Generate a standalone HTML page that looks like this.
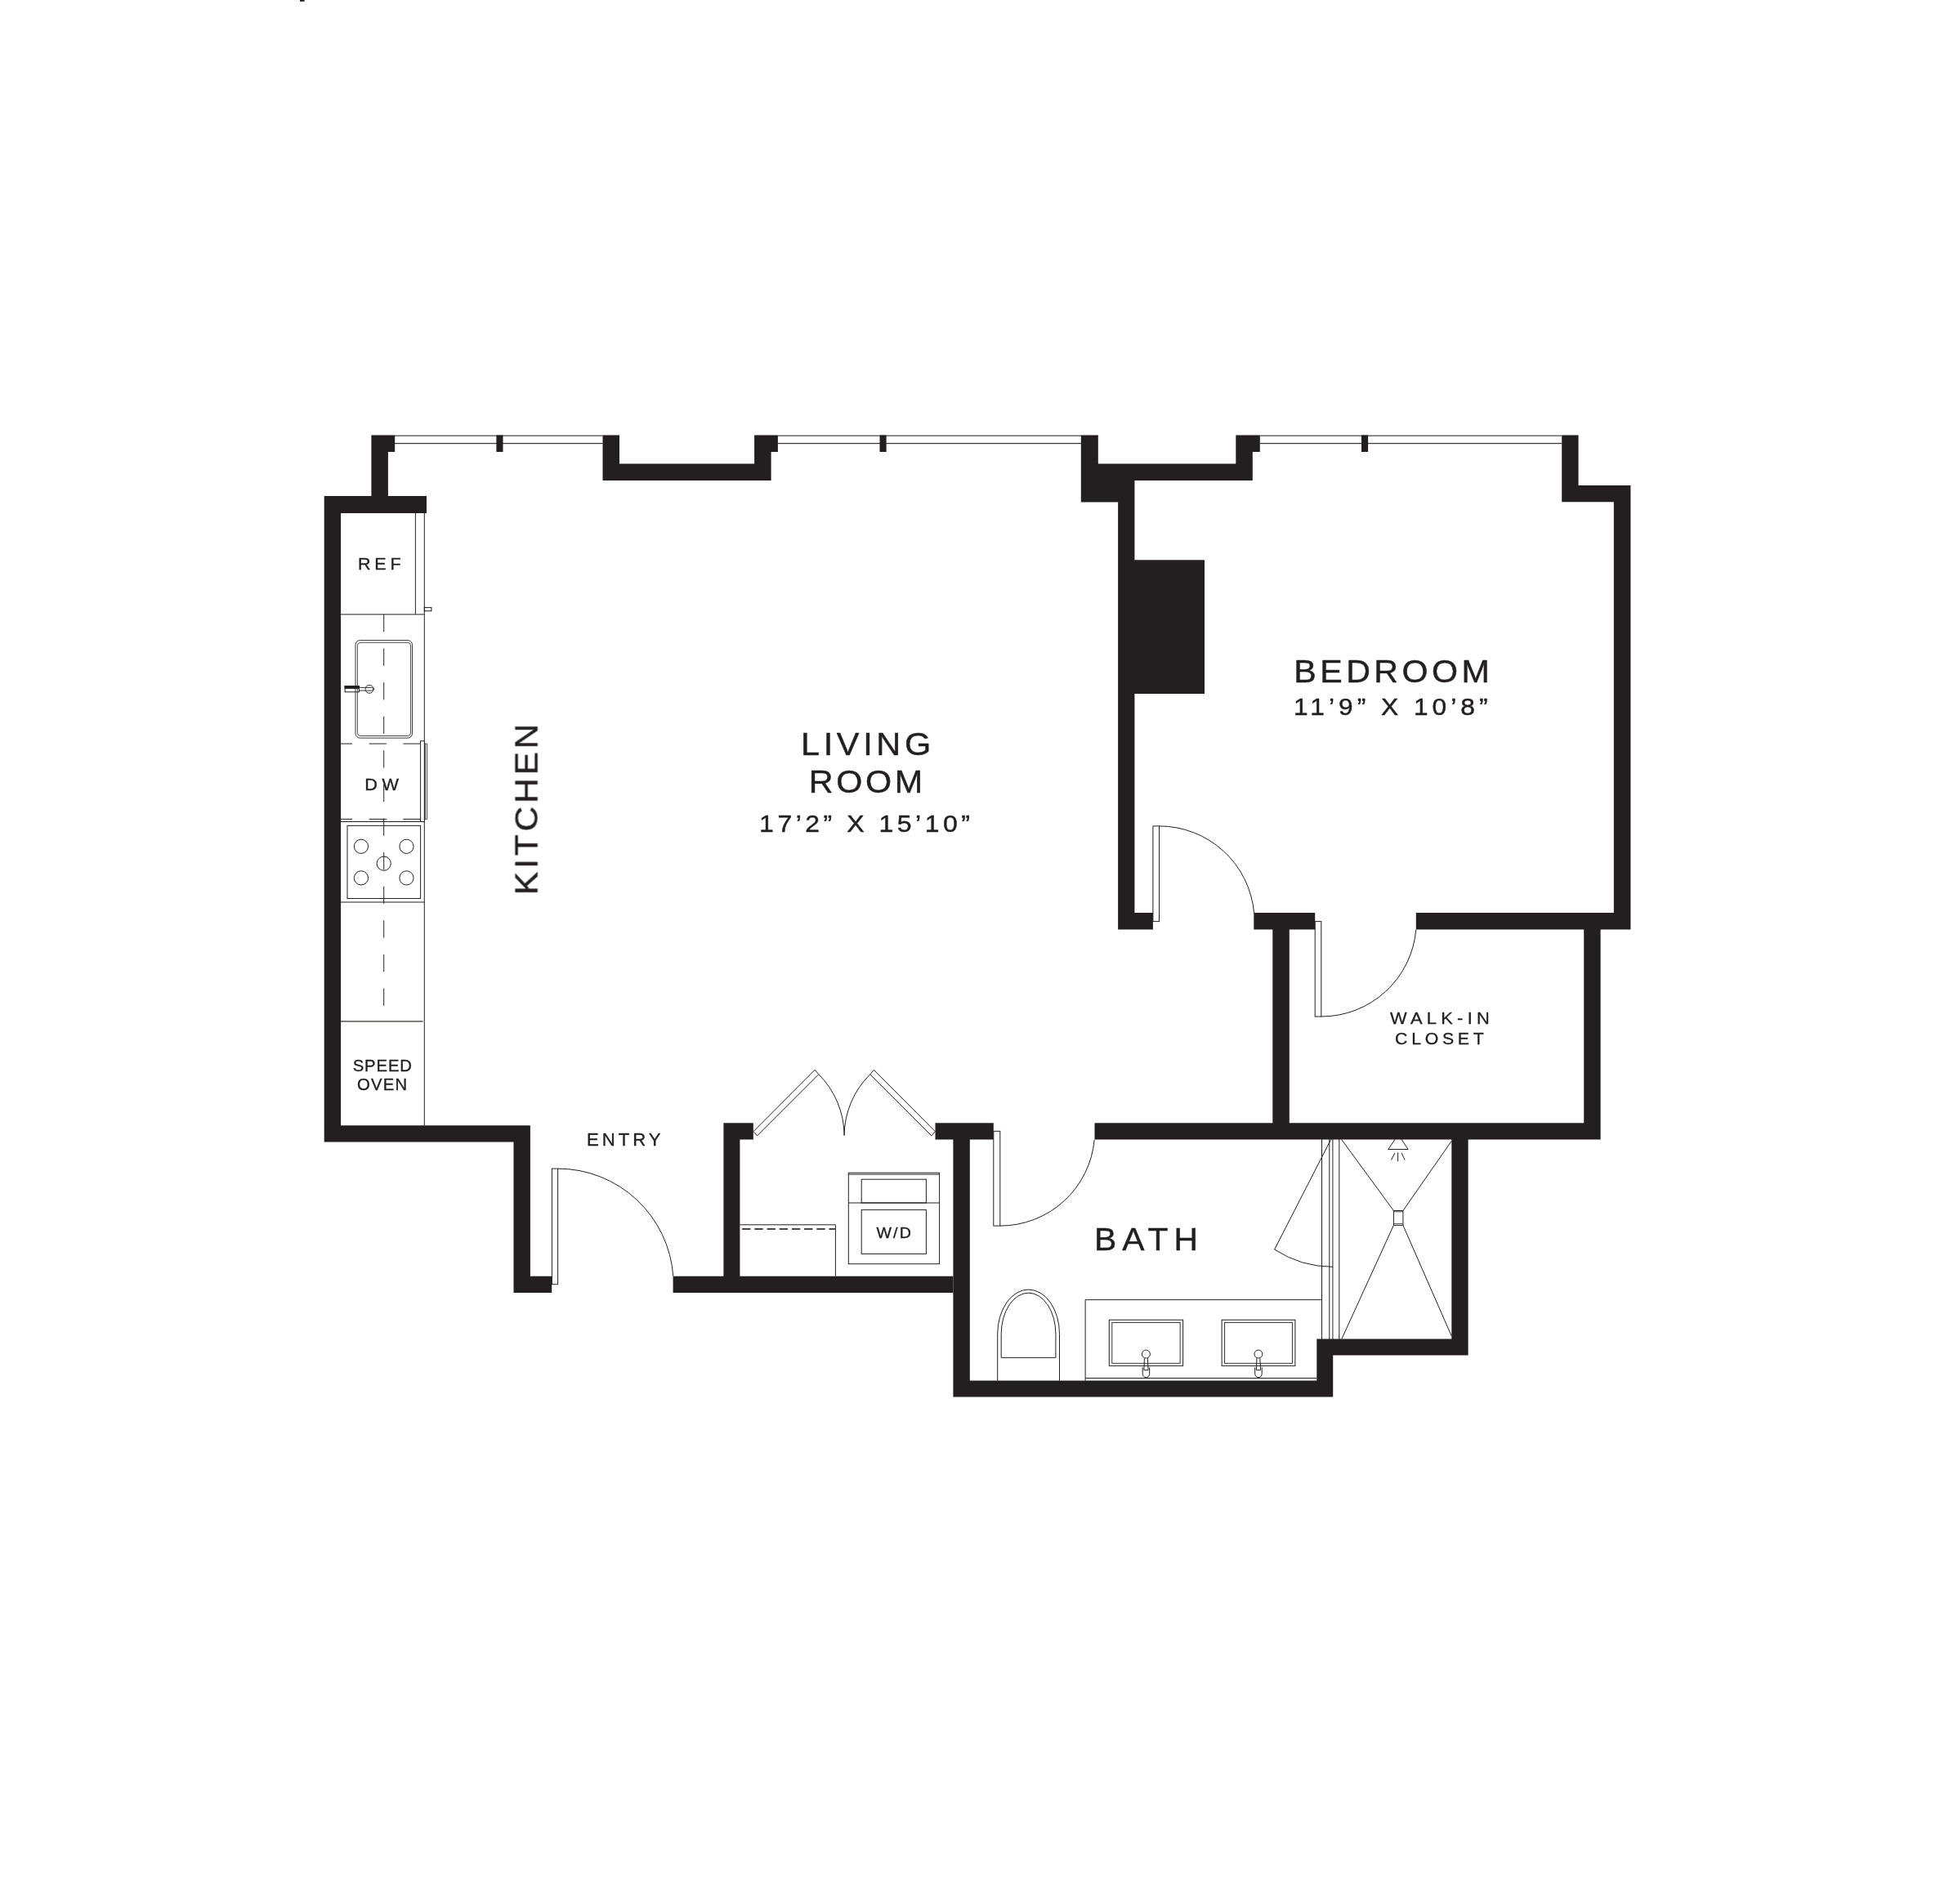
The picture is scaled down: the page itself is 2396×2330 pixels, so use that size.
<!DOCTYPE html>
<html lang="en">
<head>
<meta charset="utf-8">
<title>Floor plan</title>
<style>
html,body{margin:0;padding:0;background:#fff;}
body{width:2396px;height:2330px;overflow:hidden;}
svg{display:block;}
.w{fill:#231f20;stroke:none;}
.l{fill:none;stroke:#231f20;stroke-width:1;}
.lw{fill:#fff;stroke:#231f20;stroke-width:1;}
text{font-family:"Liberation Sans",sans-serif;fill:#231f20;}
</style>
</head>
<body>
<svg width="2396" height="2330" viewBox="0 0 2396 2330">
<rect x="0" y="0" width="2396" height="2330" fill="#ffffff"/>
<rect x="367" y="0" width="5.6" height="1.8" fill="#231f20"/>

<!-- WINDOWS -->
<g id="windows" fill="none">
<path d="M483 533.2H737.5M952 533.2H1323M1541.5 533.2H1911.2" stroke="#231f20" stroke-width="1"/>
<path d="M483 542.6H737.5M952 542.6H1323M1541.5 542.6H1911.2" stroke="#3f3b39" stroke-width="1.05"/>
</g>

<!-- KITCHEN -->
<g id="kitchen" class="l">
<path d="M508.4 627.9V751.9M519.3 627.9V1377.1M417 751.9H519.3"/>
<rect x="519.3" y="743.4" width="8.6" height="4.3"/>
<path d="M469.7 751.9V1230.8" stroke-dasharray="21.3 20.3"/>
<rect x="435" y="783.6" width="69.5" height="119.5" rx="5.5" stroke-width="0.9"/>
<rect x="437.4" y="786.3" width="65.1" height="114.2" rx="3.7" stroke-width="0.8"/>
<path d="M417 910.1H514.6M417 1002.4H514.6" stroke-dasharray="21.3 20.5" stroke-dashoffset="7.2"/>
<rect class="lw" x="514.6" y="906.8" width="4.7" height="98.7"/>
<path d="M519.3 910.1H522.7V1002.4H519.3M520.6 910.1V1002.4" stroke-width="0.8"/>
<path d="M417 1005.5H519.3M417 1104H519.3"/>
<rect x="425" y="1010.4" width="89.6" height="89.1"/>
<circle cx="441.95" cy="1035.8" r="8.6"/>
<circle cx="497.5" cy="1035.8" r="8.6"/>
<circle cx="441.95" cy="1074.4" r="8.6"/>
<circle cx="497.5" cy="1074.4" r="8.6"/>
<circle cx="469.7" cy="1056.7" r="8.6"/>
<path d="M417 1249.8H517.6" stroke="#6e6a67" stroke-width="1.8"/>
<!-- faucet -->
<rect x="422.1" y="839.5" width="17.3" height="7.3"/>
<rect x="422.1" y="839.5" width="17.3" height="2.9" fill="#231f20"/>
<path d="M439.4 841.4H455L458.2 843.3L455 845.1H439.4" stroke-width="0.9"/>
<circle cx="452.05" cy="843.3" r="5" stroke-width="0.9"/>
</g>

<!-- DOORS -->
<g id="doors" class="l">
<!-- entry -->
<rect x="675.4" y="1430.1" width="7.2" height="141.6"/>
<path d="M682.6 1430.1A141.6 141.6 0 0 1 823.8 1561.7"/>
<!-- bedroom -->
<rect x="1410.9" y="1010.9" width="7.6" height="116.7"/>
<path d="M1418.5 1010.9A116.6 116.6 0 0 1 1534.6 1117.1"/>
<!-- walk-in closet -->
<rect x="1609.2" y="1127.6" width="7.6" height="116.4"/>
<path d="M1616.8 1244A116.4 116.4 0 0 0 1732.8 1137.6"/>
<!-- bath -->
<rect x="1215.8" y="1384.3" width="8" height="115.8"/>
<path d="M1223.8 1500.1A115.8 115.8 0 0 0 1339.2 1394.7"/>
<!-- closet double doors -->
<path d="M922.06 1384.6L997.2 1309.2L1001.8 1314.7L926.6 1389.9Z"/>
<path d="M1144.35 1384.6L1069.3 1309.2L1064.8 1314.7L1139.9 1389.9Z"/>
<path d="M1001.8 1314.7A106.4 106.4 0 0 1 1033.1 1389.5"/>
<path d="M1064.8 1314.7A106.4 106.4 0 0 0 1033.1 1389.5"/>
</g>

<!-- ENTRY CLOSET / W/D -->
<g id="wd" class="l">
<path d="M905.4 1498.8H1022.4V1561.7"/>
<path d="M908.1 1504H1022.4" stroke="#4a4644" stroke-width="1.8" stroke-dasharray="10.4 4.8"/>
<rect x="1038.3" y="1435.2" width="111.3" height="111.5"/>
<path d="M1038.3 1437.1H1149.6M1038.3 1472H1149.6"/>
<rect x="1054.2" y="1443.2" width="79.2" height="28.8"/>
<rect x="1054.2" y="1480.6" width="79.2" height="53.8"/>
</g>

<!-- BATH -->
<g id="bath" class="l">
<!-- toilet -->
<path d="M1220.7 1689.7V1632.4A37.9 54.3 0 0 1 1296.5 1632.4V1689.7"/>
<path d="M1225.2 1661.4V1632.4A33.35 50.2 0 0 1 1291.9 1632.4V1661.4Z"/>
<!-- vanity -->
<path d="M1328.1 1689.7V1590.6H1617.4M1328.1 1686.5H1611.5"/>
<rect x="1357.3" y="1615.2" width="90.3" height="56.2"/>
<rect x="1360.8" y="1618.4" width="83.3" height="49.9" stroke-width="0.9"/>
<rect x="1495.1" y="1615.2" width="89.8" height="56.2"/>
<rect x="1498.6" y="1618.4" width="82.8" height="49.9" stroke-width="0.9"/>
<g id="f1" stroke-width="1">
<circle class="lw" cx="1402.4" cy="1657.05" r="5"/>
<path d="M1398.2 1673.2V1681.3A4.25 4.25 0 0 0 1406.7 1681.3V1673.2"/>
<path d="M1400.4 1662.2L1399.9 1676.7H1405L1404.4 1662.2"/>
</g>
<g id="f2" stroke-width="1">
<circle class="lw" cx="1539.9" cy="1657.05" r="5"/>
<path d="M1535.7 1673.2V1681.3A4.25 4.25 0 0 0 1544.2 1681.3V1673.2"/>
<path d="M1537.9 1662.2L1537.4 1676.7H1542.5L1541.9 1662.2"/>
</g>
<!-- shower -->
<path d="M1617.5 1390V1640M1626.8 1390V1640M1630.9 1390V1640M1638.8 1390V1640"/>
<path d="M1628.7 1394.3L1559.6 1529A131 131 0 0 0 1631.2 1550.3"/>
<path d="M1641.5 1394.3L1705.4 1481.5M1776.3 1396.2L1716.9 1481.5M1641.9 1638.4L1705.4 1499.4M1776.3 1635.1L1716.9 1499.4"/>
<rect x="1705.4" y="1481.5" width="11.5" height="17.9"/>
<path d="M1705.4 1497.6H1716.9M1705.4 1482.8H1716.9" stroke-width="0.8"/>
<path d="M1711 1388.3L1698.8 1406.5H1723.1Z"/>
<path d="M1710.6 1410.4V1421.2M1706.9 1410.9L1702.5 1419.4M1715 1410.9L1719.1 1419.4"/>
</g>

<!-- WALLS -->
<g id="walls" class="w">
<rect x="607.4" y="532.5" width="8.1" height="20.5"/>
<rect x="1076.5" y="532.5" width="8.1" height="20.5"/>
<rect x="1666" y="532.5" width="8.1" height="20.5"/>
<!-- kitchen / entry left -->
<path d="M454.4 532.5H483.2V553H474.9V606.9H522V627.9H417.1V1377.2H648.9V1561.7H675.2V1581.9H628.5V1397.5H396.7V606.9H454.4Z"/>
<!-- top bump-out 1 -->
<path d="M737.5 532.5H758V567.5H923.1V532.5H951.9V553H943.6V587.9H737.5Z"/>
<!-- top bump-out 2 + living/bedroom wall -->
<path d="M1322.8 532.5H1343.8V567.5H1512.3V532.5H1541.8V553H1532.8V587.9H1388.4V685.3H1474V849H1388.4V1117.1H1410.9V1137.6H1368.1V614.4H1322.8Z"/>
<!-- bedroom right + bottom + closet + bath + shower -->
<path d="M1911.2 532.5H1931.5V593.9H1995.4V1137.6H1958.6V1394.5H1796.6V1658.4H1631.2V1709.4H1166.4V1394.5H1144.5V1374.3H1215.8V1394.5H1186.8V1689.6H1611.3V1638.4H1776.3V1394.5H1339.5V1374.3H1557.3V1137.6H1534.3V1117.1H1609.2V1137.6H1577.8V1374.3H1938.2V1137.6H1732.8V1117.1H1974.8V614.3H1911.2Z"/>
<!-- entry closet -->
<path d="M885.4 1374.3H921.8V1394.4H905.4V1561.7H1166.4V1581.9H823.6V1561.7H885.4Z"/>
</g>

<!-- LABELS -->
<g id="labels" opacity="0.999" stroke="#231f20" stroke-linejoin="round">
<text transform="translate(437.92 696.62) scale(1.04 1)" font-size="20.71" letter-spacing="4.61" stroke-width="0.35">REF</text>
<text transform="translate(446.30 966.83) scale(1.04 1)" font-size="20.86" letter-spacing="5.34" stroke-width="0.35">DW</text>
<text transform="translate(431.66 1311.33) scale(1.0 1)" font-size="20.28" letter-spacing="0.90" stroke-width="0.35">SPEED</text>
<text transform="translate(437.02 1334.03) scale(1.0 1)" font-size="20.28" letter-spacing="1.26" stroke-width="0.35">OVEN</text>
<text transform="translate(657.6 1095.13) rotate(-90) scale(1.07 1)" font-size="39.61" letter-spacing="3.65" stroke-width="0.45">KITCHEN</text>
<text transform="translate(979.94 923.88) scale(1.07 1)" font-size="38.74" letter-spacing="4.37" stroke-width="0.45">LIVING</text>
<text transform="translate(989.65 969.67) scale(1.07 1)" font-size="38.59" letter-spacing="3.44" stroke-width="0.45">ROOM</text>
<text transform="translate(929.11 1017.98) scale(1.07 1)" font-size="29.87" letter-spacing="4.23" stroke-width="0.45">17’2” X 15’10”</text>
<text transform="translate(1583.37 834.57) scale(1.07 1)" font-size="38.44" letter-spacing="4.18" stroke-width="0.45">BEDROOM</text>
<text transform="translate(1583.04 874.57) scale(1.07 1)" font-size="29.58" letter-spacing="4.70" stroke-width="0.45">11’9” X 10’8”</text>
<text transform="translate(718.07 1402.12) scale(1.04 1)" font-size="21.29" letter-spacing="3.79" stroke-width="0.35">ENTRY</text>
<text transform="translate(1072.40 1514.53) scale(1.04 1)" font-size="18.82" letter-spacing="2.11" stroke-width="0.35">W/D</text>
<text transform="translate(1338.89 1529.78) scale(1.07 1)" font-size="38.15" letter-spacing="6.65" stroke-width="0.45">BATH</text>
<text transform="translate(1700.89 1252.83) scale(1.04 1)" font-size="21.00" letter-spacing="5.09" stroke-width="0.35">WALK-IN</text>
<text transform="translate(1707.11 1277.62) scale(1.04 1)" font-size="20.42" letter-spacing="4.54" stroke-width="0.35">CLOSET</text>
</g>
</svg>
</body>
</html>
